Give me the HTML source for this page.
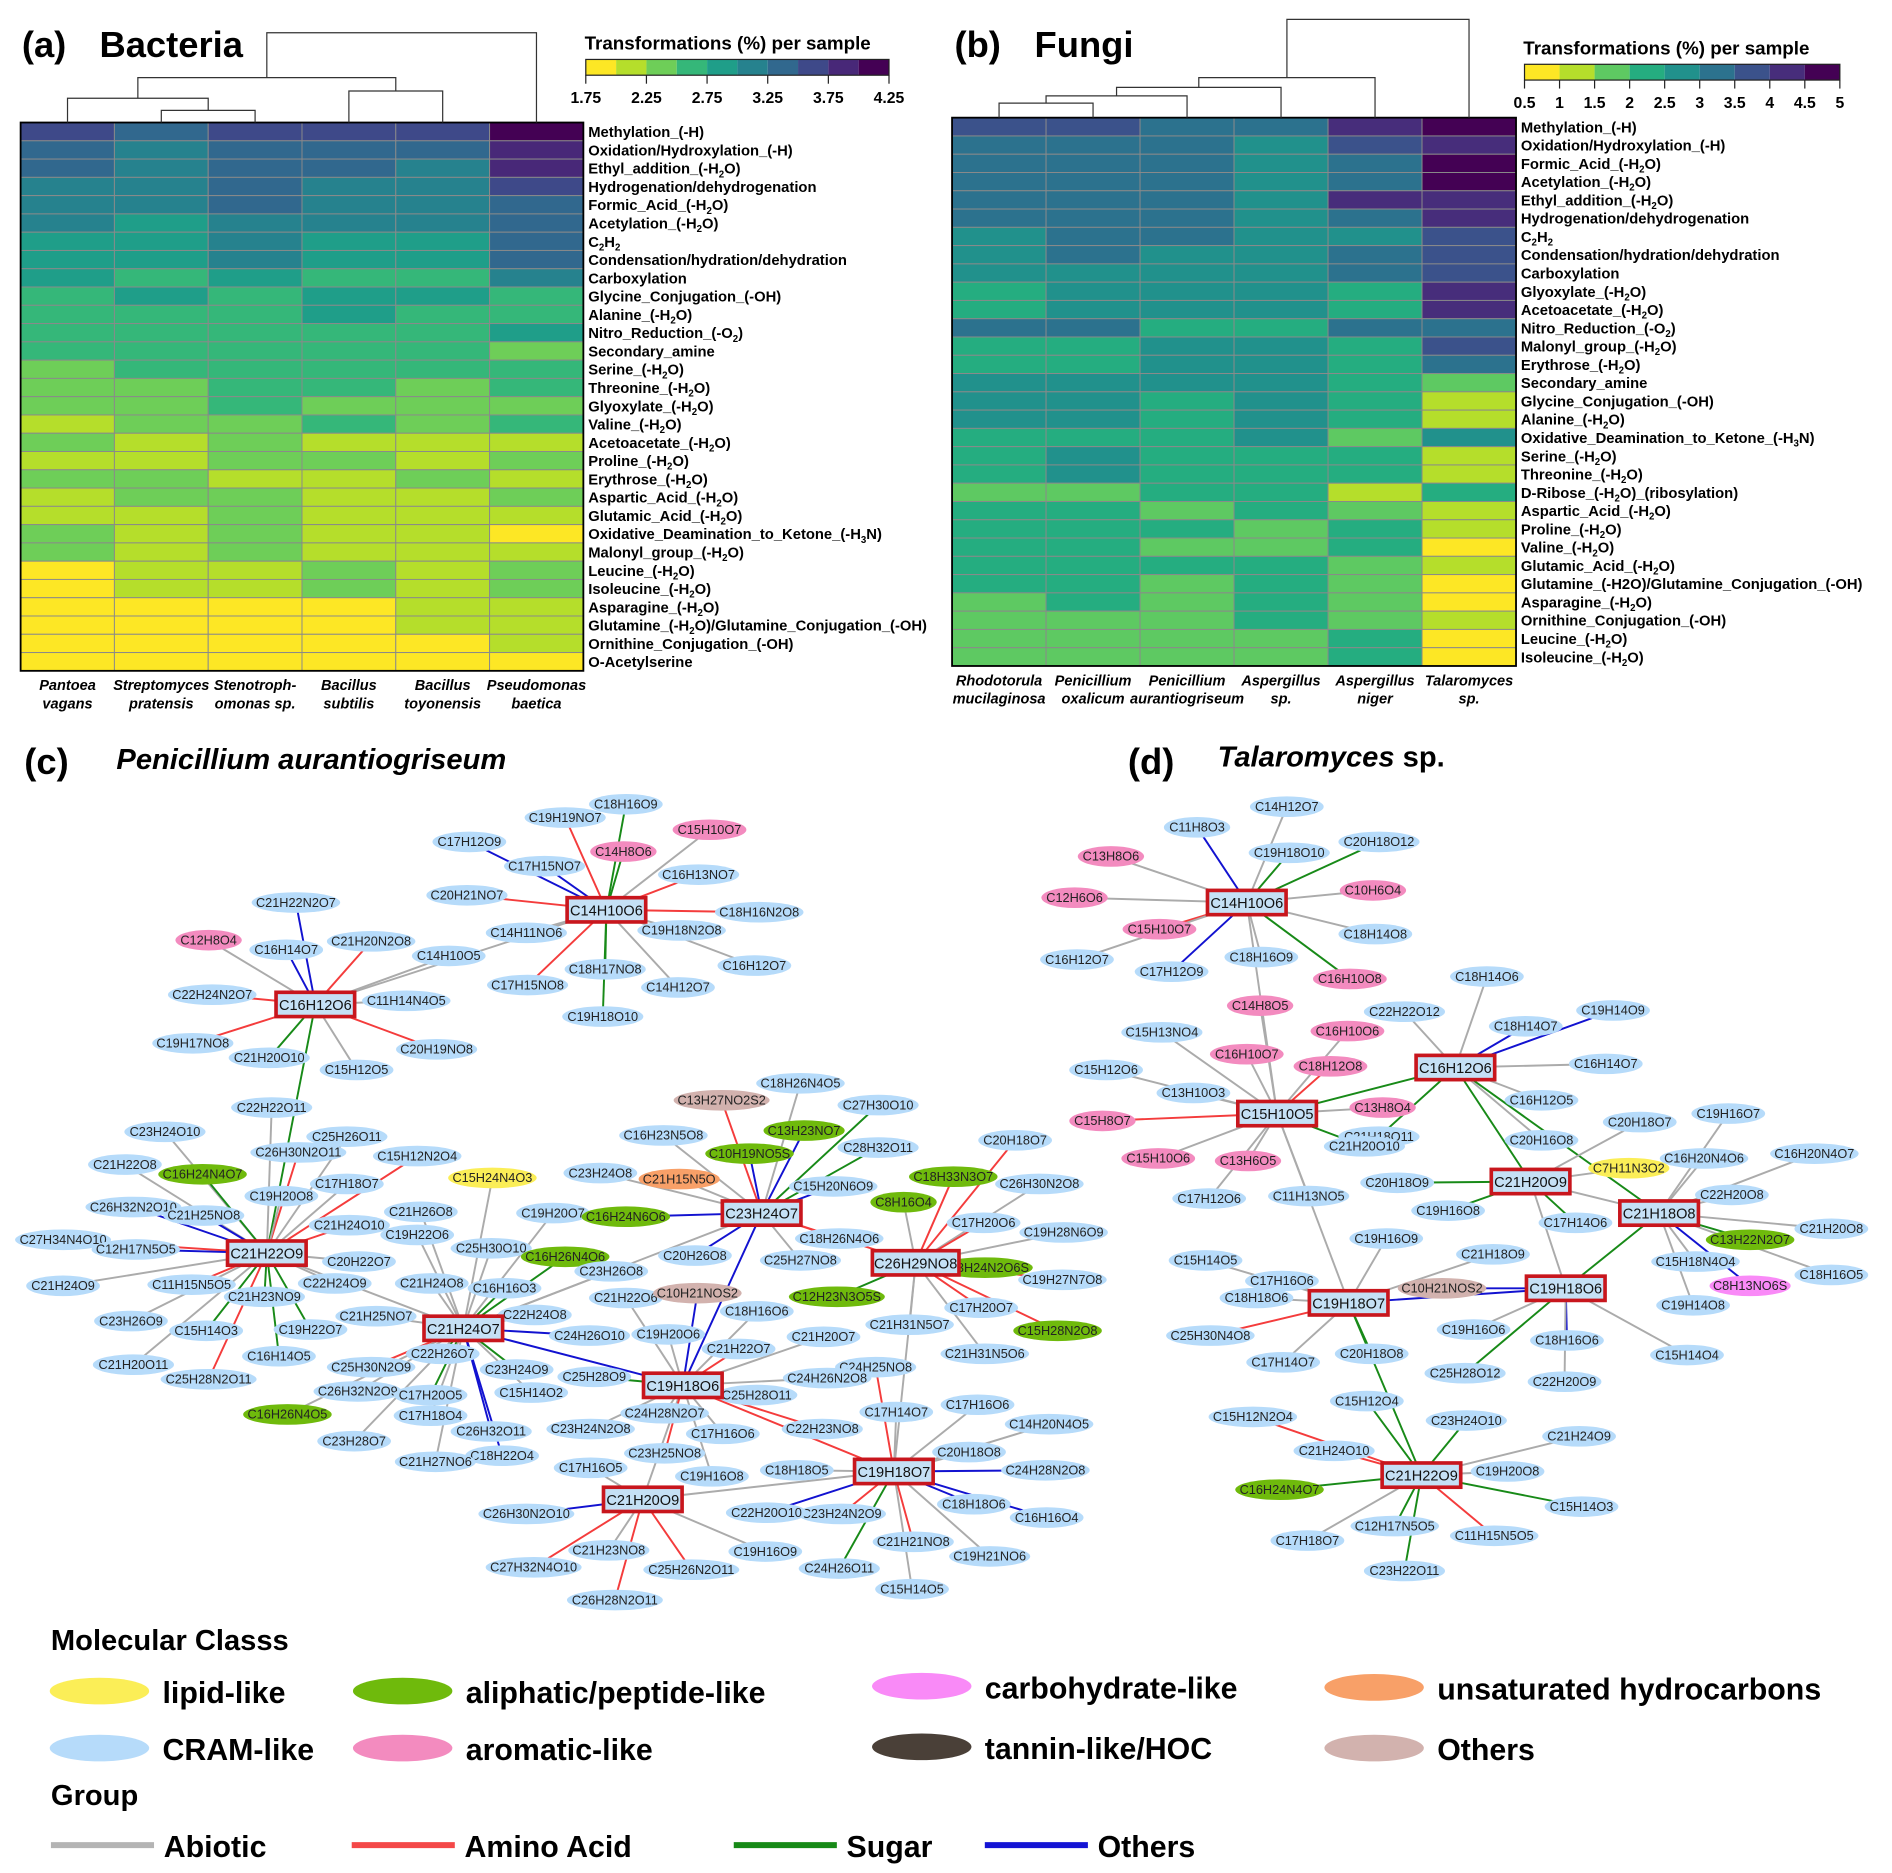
<!DOCTYPE html>
<html><head><meta charset="utf-8">
<style>
html,body{margin:0;padding:0;background:#fff;}
svg{display:block;}
text{font-family:"Liberation Sans",Arial,sans-serif;}
</style></head>
<body>
<svg id="root" xmlns="http://www.w3.org/2000/svg" width="1892" height="1873" viewBox="0 0 1560 1544" preserveAspectRatio="none">
</svg>
<script>
// ---------- Heatmap (a) data ----------
const bactSamples = ["Pantoea|vagans","Streptomyces|pratensis","Stenotroph-|omonas sp.","Bacillus|subtilis","Bacillus|toyonensis","Pseudomonas|baetica"];
const bactRows = ["Methylation_(-H)","Oxidation/Hydroxylation_(-H)","Ethyl_addition_(-H{2}O)","Hydrogenation/dehydrogenation","Formic_Acid_(-H{2}O)","Acetylation_(-H{2}O)","C{2}H{2}","Condensation/hydration/dehydration","Carboxylation","Glycine_Conjugation_(-OH)","Alanine_(-H{2}O)","Nitro_Reduction_(-O{2})","Secondary_amine","Serine_(-H{2}O)","Threonine_(-H{2}O)","Glyoxylate_(-H{2}O)","Valine_(-H{2}O)","Acetoacetate_(-H{2}O)","Proline_(-H{2}O)","Erythrose_(-H{2}O)","Aspartic_Acid_(-H{2}O)","Glutamic_Acid_(-H{2}O)","Oxidative_Deamination_to_Ketone_(-H{3}N)","Malonyl_group_(-H{2}O)","Leucine_(-H{2}O)","Isoleucine_(-H{2}O)","Asparagine_(-H{2}O)","Glutamine_(-H{2}O)/Glutamine_Conjugation_(-OH)","Ornithine_Conjugation_(-OH)","O-Acetylserine"];
const bactValues = [
[3.63,3.38,3.63,3.63,3.63,4.13],[3.38,3.13,3.38,3.38,3.38,3.88],[3.38,3.13,3.38,3.38,3.13,3.88],[3.13,3.13,3.38,3.13,3.13,3.63],[3.13,3.13,3.38,3.13,3.13,3.38],[3.13,2.88,3.13,3.13,3.13,3.38],[2.88,2.88,3.13,2.88,2.88,3.38],[2.88,2.88,3.13,2.88,2.88,3.38],[2.88,2.63,2.88,2.63,2.63,3.13],[2.63,2.88,2.63,2.88,2.88,2.63],[2.63,2.63,2.63,2.88,2.63,2.63],[2.63,2.63,2.63,2.63,2.63,2.88],[2.63,2.63,2.63,2.63,2.63,2.38],[2.38,2.63,2.63,2.63,2.63,2.63],[2.38,2.38,2.63,2.63,2.38,2.63],[2.38,2.38,2.63,2.38,2.38,2.38],[2.13,2.38,2.38,2.63,2.38,2.63],[2.38,2.13,2.38,2.13,2.13,2.13],[2.13,2.13,2.38,2.38,2.13,2.38],[2.38,2.38,2.13,2.13,2.38,2.13],[2.13,2.38,2.38,2.13,2.13,2.38],[2.13,2.13,2.38,2.13,2.13,2.13],[2.38,2.13,2.38,2.13,2.13,1.88],[2.38,2.13,2.38,2.13,2.13,2.13],[1.88,2.13,2.13,2.38,2.13,2.38],[1.88,2.13,2.13,2.38,2.13,2.38],[1.88,1.88,1.88,1.88,2.13,2.13],[1.88,1.88,1.88,1.88,2.13,2.13],[1.88,1.88,1.88,1.88,1.88,2.13],[1.88,1.88,1.88,1.88,1.88,1.88]];
const bactTicks = ["1.75","2.25","2.75","3.25","3.75","4.25"];
const bactColors = ["#fde725","#b5de2b","#6ece58","#35b779","#1f9e89","#26828e","#31688e","#3e4989","#482878","#440154"];
// ---------- Heatmap (b) data ----------
const fungSamples = ["Rhodotorula|mucilaginosa","Penicillium|oxalicum","Penicillium|aurantiogriseum","Aspergillus|sp.","Aspergillus|niger","Talaromyces|sp."];
const fungRows = ["Methylation_(-H)","Oxidation/Hydroxylation_(-H)","Formic_Acid_(-H{2}O)","Acetylation_(-H{2}O)","Ethyl_addition_(-H{2}O)","Hydrogenation/dehydrogenation","C{2}H{2}","Condensation/hydration/dehydration","Carboxylation","Glyoxylate_(-H{2}O)","Acetoacetate_(-H{2}O)","Nitro_Reduction_(-O{2})","Malonyl_group_(-H{2}O)","Erythrose_(-H{2}O)","Secondary_amine","Glycine_Conjugation_(-OH)","Alanine_(-H{2}O)","Oxidative_Deamination_to_Ketone_(-H{3}N)","Serine_(-H{2}O)","Threonine_(-H{2}O)","D-Ribose_(-H{2}O)_(ribosylation)","Aspartic_Acid_(-H{2}O)","Proline_(-H{2}O)","Valine_(-H{2}O)","Glutamic_Acid_(-H{2}O)","Glutamine_(-H2O)/Glutamine_Conjugation_(-OH)","Asparagine_(-H{2}O)","Ornithine_Conjugation_(-OH)","Leucine_(-H{2}O)","Isoleucine_(-H{2}O)"];
const fungValues = [
[3.75,3.75,3.25,3.25,4.25,4.75],[3.25,3.25,3.25,2.75,3.75,4.25],[3.25,3.25,3.25,2.75,3.25,4.75],[3.25,3.25,3.25,2.75,3.25,4.75],[3.25,3.25,3.25,2.75,4.25,4.25],[3.25,3.25,3.25,2.75,3.25,4.25],[2.75,3.25,3.25,2.75,2.75,3.75],[2.75,3.25,2.75,2.75,3.25,3.75],[2.75,2.75,2.75,2.75,3.25,3.75],[2.25,2.75,2.75,2.75,2.25,4.25],[2.25,2.75,2.75,2.75,2.25,4.25],[3.25,3.25,2.25,2.25,3.25,3.25],[2.25,2.25,2.75,2.75,2.25,3.75],[2.25,2.25,2.75,2.75,2.25,3.25],[2.75,2.75,2.75,2.75,2.25,1.75],[2.75,2.75,2.25,2.75,2.25,1.25],[2.75,2.75,2.25,2.75,2.25,1.25],[2.25,2.25,2.25,2.75,1.75,2.75],[2.25,2.75,2.25,2.25,2.25,1.25],[2.25,2.75,2.25,2.25,2.25,1.25],[1.75,1.75,2.25,2.25,1.25,2.25],[2.25,2.25,1.75,2.25,1.75,1.25],[2.25,2.25,2.25,1.75,2.25,1.25],[2.25,2.25,1.75,1.75,2.25,0.75],[2.25,2.25,2.25,2.25,1.75,1.25],[2.25,2.25,1.75,2.25,1.75,0.75],[1.75,2.25,1.75,2.25,1.75,0.75],[1.75,1.75,1.75,2.25,1.75,1.25],[1.75,1.75,1.75,1.75,2.25,0.75],[1.75,1.75,1.75,1.75,2.25,0.75]];
const fungTicks = ["0.5","1","1.5","2","2.5","3","3.5","4","4.5","5"];
const fungColors = ["#fde725","#b5de2b","#5ec962","#25ad80","#21918c","#2c728e","#3b528b","#472d7b","#440154"];

const NS="http://www.w3.org/2000/svg";
const root=document.getElementById('root');
function mk(tag,attrs,parent){const e=document.createElementNS(NS,tag);for(const k in attrs)e.setAttribute(k,attrs[k]);(parent||root).appendChild(e);return e;}
function rich(t,str){
  const parts=str.split(/(\{[^}]*\})/);let sub=false;
  parts.forEach(p=>{if(!p)return;const ts=document.createElementNS(NS,'tspan');
    if(p[0]==='{'){ts.textContent=p.slice(1,-1);ts.setAttribute('font-size','8');ts.setAttribute('dy','3');sub=true;}
    else{ts.textContent=p;if(sub){ts.setAttribute('dy','-3');sub=false;}}
    t.appendChild(ts);});
}

function heatmap(opt){
  const g=mk('g',{});
  
  
  const nC=opt.samples.length,nR=opt.rows.length;
  const cw=(opt.x1-opt.x0)/nC,rh=(opt.y1-opt.y0)/nR;
  const cx=i=>opt.x0+cw*(i+0.5);
  const bin=v=>Math.max(0,Math.min(opt.colors.length-1,Math.floor((v-opt.vmin)/opt.step)));
  opt.values.forEach((row,r)=>row.forEach((v,c)=>{
    const rc=mk('rect',{x:opt.x0+c*cw,y:opt.y0+r*rh,width:cw,height:rh,fill:opt.colors[bin(v)],stroke:'#8a8a8a','stroke-width':0.8},g);
    
    
  }));
  mk('rect',{x:opt.x0,y:opt.y0,width:opt.x1-opt.x0,height:opt.y1-opt.y0,fill:'none',stroke:'#000','stroke-width':1.5},g);
  opt.rows.forEach((lab,r)=>{
    const t=mk('text',{x:opt.x1+4,y:opt.y0+r*rh+rh/2+4.5,'font-size':12.2,'font-weight':'bold','font-family':'"Liberation Sans Narrow","Liberation Sans",sans-serif'},g);
    rich(t,lab);
    
    
  });
  opt.samples.forEach((s,i)=>{
    const [a,b]=s.split('|');
    const t=mk('text',{x:cx(i),y:opt.y1+16,'font-size':12,'font-weight':'bold','font-style':'italic','text-anchor':'middle'},g);
    t.textContent=a;
    
    
    const t2=mk('text',{x:cx(i),y:opt.y1+31,'font-size':12,'font-weight':'bold','font-style':'italic','text-anchor':'middle'},g);
    t2.textContent=b;
    
    
  });
  opt.dendro.forEach(d=>{
    const [a,b,h,ha,hb]=d;
    const xa=typeof a==='number'?cx(a):a.x, xb=typeof b==='number'?cx(b):b.x;
    mk('path',{d:`M${xa},${ha}V${h}H${xb}V${hb}`,fill:'none',stroke:'#333','stroke-width':1},g);
  });
  const cb=mk('g',{},g);
  
  
  const n=opt.colors.length,bw=(opt.cbx1-opt.cbx0)/n;
  opt.colors.forEach((c,i)=>mk('rect',{x:opt.cbx0+i*bw,y:opt.cby,width:bw,height:13,fill:c},cb));
  mk('rect',{x:opt.cbx0,y:opt.cby,width:opt.cbx1-opt.cbx0,height:13,fill:'none',stroke:'#222','stroke-width':1},cb);
  opt.ticks.forEach((tk,i)=>{
    const x=opt.cbx0+(opt.cbx1-opt.cbx0)*i/(opt.ticks.length-1);
    mk('line',{x1:x,x2:x,y1:opt.cby+13,y2:opt.cby+20,stroke:'#222'},cb);
    const t=mk('text',{x:x,y:opt.cby+36,'font-size':13,'font-weight':'bold','text-anchor':'middle'},cb);
    t.textContent=tk;
    
    
  });
  const tt=mk('text',{x:opt.cbx0-1,y:opt.cby-8,'font-size':15.5,'font-weight':'bold','font-family':'"Liberation Sans Narrow","Liberation Sans",sans-serif'},cb);
  tt.textContent='Transformations (%) per sample';
  
  
  return {cx};
}
(function(){
  const x0=17,x1=481,cw=(x1-x0)/6;const c=i=>x0+cw*(i+.5);
  const m23=(c(1)+c(2))/2, m0=(c(0)+m23)/2, m34=(c(3)+c(4))/2, mL=(m0+m34)/2;
  heatmap({name:'bacteria-heatmap',samples:bactSamples,rows:bactRows,values:bactValues,colors:bactColors,vmin:1.75,step:0.25,x0,x1,y0:101,y1:553,cbx0:483,cbx1:733,cby:49,ticks:bactTicks,
    dendro:[[1,2,91,101,101],[0,{x:m23},81,101,91],[3,4,75,101,101],[{x:m0},{x:m34},64,81,75],[{x:mL},5,27,64,101]]});
})();
(function(){
  const x0=785,x1=1250,cw=(x1-x0)/6;const c=i=>x0+cw*(i+.5);
  const a=(c(0)+c(1))/2,b=(a+c(2))/2,d=(b+c(3))/2,e=(d+c(4))/2;
  heatmap({name:'fungi-heatmap',samples:fungSamples,rows:fungRows,values:fungValues,colors:fungColors,vmin:0.5,step:0.5,x0,x1,y0:97,y1:549,cbx0:1257,cbx1:1517,cby:53,ticks:fungTicks,
    dendro:[[0,1,85,97,97],[{x:a},2,79,85,97],[{x:b},3,72,79,97],[{x:d},4,64,72,97],[{x:e},5,16,64,97]]});
})();
[[18,47,'(a)'],[82,47,'Bacteria'],[787,47,'(b)'],[853,47,'Fungi'],[20,638,'(c)'],[930,638,'(d)']].forEach(([x,y,s])=>{
  const t=mk('text',{x,y,'font-size':30,'font-weight':'bold'});t.textContent=s;
  
  
});
(function(){
  const t=mk('text',{x:96,y:634,'font-size':24,'font-weight':'bold','font-style':'italic'});t.textContent='Penicillium aurantiogriseum';
  
  
  const t2=mk('text',{x:1004,y:632,'font-size':24,'font-weight':'bold'});
  const a=document.createElementNS(NS,'tspan');a.setAttribute('font-style','italic');a.textContent='Talaromyces';t2.appendChild(a);
  const b=document.createElementNS(NS,'tspan');b.textContent=' sp.';t2.appendChild(b);
  
  
})();

const classColor={c:'#b6dbfa',a:'#f38bbf',l:'#fbee57',p:'#6fba0c',h:'#f98af7',u:'#f8a068',o:'#d2b2ae'};
const edgeColor={n:'#ababab',r:'#f43c3c',g:'#188a18',b:'#1212d0'};
const hubsC=[["H1","C14H10O6",500,750],["H2","C16H12O6",260,828],["H3","C21H22O9",220,1033],["H4","C21H24O7",382,1095],["H5","C23H24O7",628,1000],["H6","C26H29NO8",755,1041],["H7","C19H18O6",563,1142],["H8","C19H18O7",737,1213],["H9","C21H20O9",530,1236]];
const hubEdgesC=[["H2","H3","g"],["H3","H4","n"],["H4","H7","b"],["H7","H9","n"],["H7","H8","r"],["H5","H6","r"],["H5","H7","b"],["H4","H5","n"],["H6","H8","n"],["H9","H8","n"],["H2","H1","n"]];
const leavesC=[
["C19H19NO7",466,674,"c","H1","r"],["C18H16O9",516,663,"c","H1","g"],["C15H10O7",585,684,"a","H1","n"],["C14H8O6",514,702,"a","H1","g"],["C17H12O9",387,694,"c","H1","b"],["C17H15NO7",449,714,"c","H1","b"],["C16H13NO7",576,721,"c","H1","r"],["C20H21NO7",385,738,"c","H1","r"],["C18H16N2O8",626,752,"c","H1","r"],["C14H11NO6",434,769,"c","H1","n"],["C19H18N2O8",562,767,"c","H1","n"],["C18H17NO8",499,799,"c","H1","g"],["C17H15NO8",435,812,"c","H1","r"],["C14H12O7",559,814,"c","H1","n"],["C16H12O7",622,796,"c","H1","n"],["C19H18O10",497,838,"c","H1","g"],
["C21H22N2O7",244,744,"c","H2","b"],["C12H8O4",172,775,"a","H2","n"],["C16H14O7",236,783,"c","H2","b"],["C21H20N2O8",306,776,"c","H2","r"],["C14H10O5",370,788,"c","H2","n"],["C22H24N2O7",175,820,"c","H2","r"],["C11H14N4O5",335,825,"c","H2","n"],["C19H17NO8",159,860,"c","H2","r"],["C20H19NO8",360,865,"c","H2","r"],["C21H20O10",222,872,"c","H2","g"],["C15H12O5",294,882,"c","H2","n"],["C22H22O11",224,913,"c","H3","n"],
["C23H24O10",136,933,"c","H3","n"],["C21H22O8",103,960,"c","H3","n"],["C16H24N4O7",167,968,"p","H3","g"],["C26H32N2O10",110,995,"c","H3","b"],["C21H25NO8",168,1002,"c","H3","b"],["C27H34N4O10",52,1022,"c","H3","r"],["C12H17N5O5",112,1030,"c","H3","b"],["C21H24O9",52,1060,"c","H3","n"],["C11H15N5O5",158,1059,"c","H3","r"],["C21H23NO9",218,1069,"c","H3","g"],["C23H26O9",108,1089,"c","H3","n"],["C15H14O3",170,1097,"c","H3","g"],["C19H22O7",256,1096,"c","H3","g"],["C21H20O11",110,1125,"c","H3","n"],["C16H14O5",230,1118,"c","H3","g"],["C25H28N2O11",172,1137,"c","H3","r"],["C26H30N2O11",246,950,"c","H3","r"],["C25H26O11",286,937,"c","H3","n"],["C17H18O7",286,976,"c","H3","n"],["C19H20O8",232,986,"c","H3","n"],["C21H24O10",288,1010,"c","H3","r"],["C20H22O7",296,1040,"c","H3","n"],["C22H24O9",276,1058,"c","H3","n"],
["C15H12N2O4",344,953,"c","H3","r"],["C15H24N4O3",406,971,"l","H4","n"],["C21H26O8",347,999,"c","H4","n"],["C19H22O6",344,1018,"c","H4","n"],["C25H30O10",405,1029,"c","H4","n"],["C16H26N4O6",466,1036,"p","H4","g"],["C19H20O7",456,1000,"c","H4","n"],["C21H24O8",356,1058,"c","H4","n"],["C16H16O3",416,1062,"c","H4","g"],["C22H24O8",441,1084,"c","H4","n"],["C21H25NO7",310,1085,"c","H4","n"],["C22H26O7",365,1116,"c","H4","g"],["C25H30N2O9",306,1127,"c","H4","r"],["C23H24O9",426,1129,"c","H4","g"],["C26H32N2O9",295,1147,"c","H4","n"],["C17H20O5",355,1150,"c","H4","g"],["C15H14O2",438,1148,"c","H4","n"],["C17H18O4",355,1167,"c","H4","n"],["C16H26N4O5",237,1166,"p","H4","n"],["C23H28O7",292,1188,"c","H4","n"],["C26H32O11",405,1180,"c","H4","b"],["C18H22O4",414,1200,"c","H4","b"],["C21H27NO6",359,1205,"c","H4","n"],["C24H26O10",486,1101,"c","H4","b"],["C23H26O8",504,1048,"c","H4","n"],
["C18H26N4O5",660,893,"c","H5","n"],["C13H27NO2S2",595,907,"o","H5","r"],["C27H30O10",724,911,"c","H5","g"],["C13H23NO7",663,932,"p","H5","b"],["C16H23N5O8",547,936,"c","H5","n"],["C28H32O11",724,946,"c","H5","g"],["C10H19NO5S",618,951,"p","H5","b"],["C23H24O8",495,967,"c","H5","n"],["C21H15N5O",560,972,"u","H5","n"],["C15H20N6O9",687,978,"c","H5","b"],["C16H24N6O6",516,1003,"p","H5","b"],["C18H26N4O6",692,1021,"c","H5","r"],["C20H26O8",573,1035,"c","H5","b"],["C25H27NO8",660,1039,"c","H5","n"],["C21H22O6",516,1070,"c","H7","n"],["C10H21NOS2",575,1066,"o","H7","b"],
["C20H18O7",837,940,"c","H6","r"],["C18H33N3O7",786,970,"p","H6","r"],["C26H30N2O8",857,976,"c","H6","n"],["C8H16O4",745,991,"p","H6","n"],["C17H20O6",811,1008,"c","H6","r"],["C19H28N6O9",877,1016,"c","H6","n"],["C13H24N2O6S",812,1045,"p","H6","n"],["C19H27N7O8",876,1055,"c","H6","r"],["C12H23N3O5S",690,1069,"p","H6","g"],["C17H20O7",809,1078,"c","H6","r"],["C15H28N2O8",872,1097,"p","H6","r"],["C21H31N5O7",750,1092,"c","H6","n"],["C21H31N5O6",812,1116,"c","H6","n"],
["C18H16O6",624,1081,"c","H7","n"],["C21H20O7",679,1102,"c","H7","n"],["C19H20O6",551,1100,"c","H7","n"],["C25H28O9",490,1135,"c","H7","g"],["C21H22O7",609,1112,"c","H7","r"],["C24H25NO8",722,1127,"c","H8","r"],["C25H28O11",624,1150,"c","H7","n"],["C24H26N2O8",682,1136,"c","H7","n"],["C24H28N2O7",548,1165,"c","H7","n"],["C22H23NO8",678,1178,"c","H7","r"],["C17H14O7",739,1164,"c","H8","n"],["C23H24N2O8",487,1178,"c","H7","n"],["C17H16O6",596,1182,"c","H7","n"],["C23H25NO8",548,1198,"c","H7","r"],["C17H16O5",487,1210,"c","H9","n"],["C19H16O8",587,1217,"c","H7","n"],["C18H18O5",657,1212,"c","H8","n"],
["C17H16O6",806,1158,"c","H8","n"],["C14H20N4O5",865,1174,"c","H8","n"],["C20H18O8",799,1197,"c","H8","n"],["C24H28N2O8",862,1212,"c","H8","b"],["C18H18O6",803,1240,"c","H8","b"],["C16H16O4",863,1251,"c","H8","b"],["C23H24N2O9",694,1248,"c","H8","r"],["C21H21NO8",753,1271,"c","H8","r"],["C19H21NO6",816,1283,"c","H8","n"],["C24H26O11",692,1293,"c","H8","g"],["C15H14O5",752,1310,"c","H8","n"],["C22H20O10",632,1247,"c","H8","b"],
["C26H30N2O10",434,1248,"c","H9","b"],["C21H23NO8",502,1278,"c","H9","n"],["C27H32N4O10",440,1292,"c","H9","r"],["C25H26N2O11",570,1294,"c","H9","r"],["C26H28N2O11",507,1319,"c","H9","r"],["C19H16O9",631,1279,"c","H9","n"]];

const hubsD=[["D1","C14H10O6",1028,744],["D2","C16H12O6",1200,880],["D3","C15H10O5",1053,918],["D4","C21H20O9",1262,974],["D5","C21H18O8",1368,1000],["D6","C19H18O7",1112,1074],["D7","C19H18O6",1291,1062],["D8","C21H22O9",1172,1216]];
const hubEdgesD=[["D1","D3","n"],["D3","D2","g"],["D2","D4","g"],["D4","D5","n"],["D5","D7","g"],["D7","D6","b"],["D6","D8","g"],["D3","D6","n"],["D4","D7","n"],["D2","D5","g"]];
const leavesD=[
["C14H12O7",1061,665,"c","D1","n"],["C11H8O3",987,682,"c","D1","b"],["C19H18O10",1063,703,"c","D1","g"],["C20H18O12",1137,694,"c","D1","g"],["C13H8O6",916,706,"a","D1","n"],["C12H6O6",886,740,"a","D1","n"],["C10H6O4",1132,734,"a","D1","n"],["C15H10O7",956,766,"a","D1","r"],["C18H14O8",1134,770,"c","D1","n"],["C16H12O7",888,791,"c","D1","n"],["C17H12O9",966,801,"c","D1","b"],["C18H16O9",1040,789,"c","D1","n"],["C16H10O8",1113,807,"a","D1","g"],
["C18H14O6",1226,805,"c","D2","n"],["C19H14O9",1330,833,"c","D2","b"],["C18H14O7",1258,846,"c","D2","b"],["C22H22O12",1158,834,"c","D2","n"],["C16H14O7",1324,877,"c","D2","n"],["C16H12O5",1271,907,"c","D2","n"],["C20H16O8",1271,940,"c","D2","n"],["C21H18O11",1137,937,"c","D2","g"],
["C14H8O5",1039,829,"a","D3","n"],["C16H10O6",1111,850,"a","D3","n"],["C15H13NO4",958,851,"c","D3","n"],["C16H10O7",1028,869,"a","D3","n"],["C18H12O8",1097,879,"a","D3","r"],["C15H12O6",912,882,"c","D3","n"],["C13H8O4",1140,913,"a","D3","n"],["C13H10O3",984,901,"c","D3","n"],["C15H8O7",909,924,"a","D3","r"],["C21H20O10",1125,945,"c","D3","g"],["C15H10O6",955,955,"a","D3","n"],["C13H6O5",1029,957,"a","D3","n"],["C17H12O6",997,988,"c","D3","n"],["C11H13NO5",1079,986,"c","D3","n"],
["C20H18O7",1352,925,"c","D4","n"],["C19H16O7",1425,918,"c","D5","n"],["C7H11N3O2",1343,963,"l","D4","n"],["C16H20N4O6",1405,955,"c","D5","n"],["C16H20N4O7",1496,951,"c","D5","n"],["C20H18O9",1152,975,"c","D4","g"],["C19H16O8",1194,998,"c","D4","g"],["C17H14O6",1299,1008,"c","D4","g"],
["C22H20O8",1428,985,"c","D5","n"],["C21H20O8",1510,1013,"c","D5","n"],["C13H22N2O7",1443,1022,"p","D5","g"],["C15H18N4O4",1398,1040,"c","D5","n"],["C8H13NO6S",1443,1060,"h","D5","b"],["C18H16O5",1510,1051,"c","D5","n"],["C19H14O8",1396,1076,"c","D5","n"],["C15H14O4",1391,1117,"c","D7","n"],
["C19H16O9",1143,1021,"c","D6","n"],["C21H18O9",1231,1034,"c","D6","n"],["C15H14O5",994,1039,"c","D6","n"],["C17H16O6",1057,1056,"c","D6","n"],["C10H21NOS2",1189,1062,"o","D7","b"],["C18H18O6",1036,1070,"c","D6","n"],["C25H30N4O8",998,1101,"c","D6","r"],["C17H14O7",1058,1123,"c","D6","n"],["C20H18O8",1131,1116,"c","D6","g"],["C15H12O4",1127,1155,"c","D8","g"],
["C19H16O6",1215,1096,"c","D7","n"],["C18H16O6",1292,1105,"c","D7","b"],["C25H28O12",1208,1132,"c","D7","g"],["C22H20O9",1290,1139,"c","D7","n"],
["C15H12N2O4",1033,1168,"c","D8","r"],["C21H24O10",1100,1196,"c","D8","r"],["C23H24O10",1209,1171,"c","D8","g"],["C21H24O9",1302,1184,"c","D8","n"],["C19H20O8",1243,1213,"c","D8","n"],["C16H24N4O7",1055,1228,"p","D8","g"],["C15H14O3",1304,1242,"c","D8","g"],["C12H17N5O5",1150,1258,"c","D8","g"],["C11H15N5O5",1232,1266,"c","D8","r"],["C17H18O7",1078,1270,"c","D8","n"],["C23H22O11",1158,1295,"c","D8","g"]];

function network(name,hubs,hubEdges,leaves){
  const g=mk('g',{});
  
  
  const H={};hubs.forEach(h=>H[h[0]]=h);
  const eg=mk('g',{},g);
  hubEdges.forEach(([a,b,c])=>{
    const l=mk('line',{x1:H[a][2],y1:H[a][3],x2:H[b][2],y2:H[b][3],stroke:edgeColor[c],'stroke-width':1.6},eg);
    
    
  });
  leaves.forEach(([lab,x,y,cl,h,c])=>{
    const l=mk('line',{x1:x,y1:y,x2:H[h][2],y2:H[h][3],stroke:edgeColor[c],'stroke-width':1.6},eg);
    
    
  });
  leaves.forEach(([lab,x,y,cl])=>{
    const ng=mk('g',{},g);
    
    
    const rx=lab.length*3.05+6;
    mk('ellipse',{cx:x,cy:y,rx:rx,ry:8.5,fill:classColor[cl]},ng);
    const t=mk('text',{x:x,y:y+3.5,'font-size':10.5,'text-anchor':'middle',fill:'#222','font-family':'"Liberation Sans Narrow","Liberation Sans",sans-serif'},ng);
    t.textContent=lab;
  });
  hubs.forEach(([id,lab,x,y])=>{
    const ng=mk('g',{},g);
    
    
    const w=lab.length*6.6+12;
    mk('rect',{x:x-w/2,y:y-10,width:w,height:20,fill:'#c5e0f5',stroke:'#c8161d','stroke-width':3},ng);
    const t=mk('text',{x:x,y:y+4.5,'font-size':12,'text-anchor':'middle',fill:'#111','font-family':'"Liberation Sans Narrow","Liberation Sans",sans-serif'},ng);
    t.textContent=lab;
  });
}
network('network-penicillium',hubsC,hubEdgesC,leavesC);
network('network-talaromyces',hubsD,hubEdgesD,leavesD);

const legendClasses=[["lipid-like","l",82,1394],["aliphatic/peptide-like","p",332,1394],["carbohydrate-like","h",760,1390],["unsaturated hydrocarbons","u",1133,1391],["CRAM-like","c",82,1441],["aromatic-like","a",332,1441],["tannin-like/HOC","t",760,1440],["Others","o",1133,1441]];
const legendGroups=[["Abiotic","n",42],["Amino Acid","r",290],["Sugar","g",605],["Others","b",812]];
(function(){
  const lg=mk('g',{});
  
  
  const F='"Liberation Sans Narrow","Liberation Sans",sans-serif';
  const h1=mk('text',{x:42,y:1360,'font-size':24,'font-weight':'bold','font-family':F},lg);h1.textContent='Molecular Classs';
  const h2=mk('text',{x:42,y:1488,'font-size':24,'font-weight':'bold','font-family':F},lg);h2.textContent='Group';
  legendClasses.forEach(([lab,cl,x,y])=>{
    const e=mk('g',{},lg);
    
    
    mk('ellipse',{cx:x,cy:y,rx:41,ry:11,fill:cl==='t'?'#4a4038':classColor[cl]},e);
    const t=mk('text',{x:x+52,y:y+10,'font-size':25,'font-weight':'bold','font-family':F},e);t.textContent=lab;
  });
  legendGroups.forEach(([lab,c,x])=>{
    const e=mk('g',{},lg);
    
    
    mk('line',{x1:x,x2:x+85,y1:1521,y2:1521,stroke:c==='n'?'#b4b4b4':c==='r'?'#f44848':c==='g'?'#178a17':'#1414d4','stroke-width':5},e);
    const t=mk('text',{x:x+93,y:1531,'font-size':25,'font-weight':'bold','font-family':F},e);t.textContent=lab;
  });
})();
</script>
</body></html>
